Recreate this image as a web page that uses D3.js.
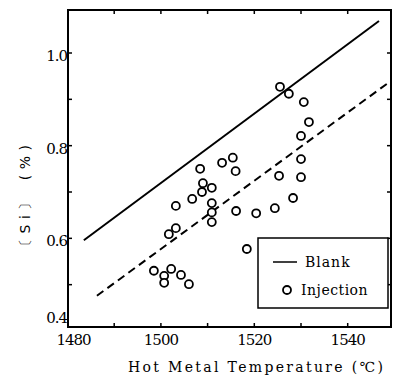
<!DOCTYPE html>
<html>
<head>
<meta charset="utf-8">
<script src="https://cdn.jsdelivr.net/npm/d3@7"></script>
<style>
  body { margin: 0; background: #fff; }
  svg { display: block; }
  .serif { font-family: 'DejaVu Serif', 'Liberation Serif', 'Noto Serif', serif; }
</style>
</head>
<body>
<div class="chart"></div>
<script>
var width = 395, height = 379;

// injection points: hot metal temperature (C), [Si] (%)
var injTemp = [1508.4, 1513.1, 1515.4, 1516.0, 1509.0, 1508.8, 1510.9, 1506.7, 1503.2, 1510.9,
               1510.9, 1510.9, 1516.1, 1520.4, 1524.4, 1528.3, 1530.0, 1525.3, 1530.0, 1530.0,
               1531.7, 1530.6, 1527.4, 1525.5, 1503.2, 1501.7, 1518.4, 1498.5, 1500.7, 1502.2,
               1504.3, 1500.7, 1506.0];
var injSi   = [0.750, 0.763, 0.774, 0.745, 0.719, 0.700, 0.709, 0.685, 0.670, 0.676,
               0.656, 0.635, 0.659, 0.654, 0.665, 0.687, 0.732, 0.735, 0.771, 0.821,
               0.851, 0.894, 0.912, 0.927, 0.622, 0.609, 0.577, 0.530, 0.519, 0.534,
               0.521, 0.504, 0.501];

// blank line (solid) and injection line (dashed), end points
var blankLine = [[1483.5, 0.596], [1546.7, 1.069]];
var injLine   = [[1486.3, 0.476], [1548.6, 0.935]];

var xTicks = [1490, 1500, 1510, 1520, 1530, 1540];
var xLabels = [1480, 1500, 1520, 1540];
var yTicks = [0.5, 0.6, 0.7, 0.8, 0.9, 1.0];
var yLabels = [0.4, 0.6, 0.8, 1.0];

var frameL = 68, frameR = 391, frameT = 10, frameB = 327;

var x = d3.scaleLinear().domain([1490, 1540]).range([114.2, 347.7]);
var y = d3.scaleLinear().domain([0.4, 1.0]).range([331, 53]);

var svg = d3.select('.chart').append('svg')
  .attr('width', width)
  .attr('height', height);

// frame
svg.append('rect')
  .attr('x', frameL).attr('y', frameT)
  .attr('width', frameR - frameL).attr('height', frameB - frameT)
  .attr('fill', 'none').attr('stroke', '#000').attr('stroke-width', 2);

// inward ticks on all four sides
svg.selectAll('.xtb').data(xTicks).enter().append('line')
  .attr('x1', function(d){ return x(d) }).attr('x2', function(d){ return x(d) })
  .attr('y1', frameB).attr('y2', frameB - 4)
  .attr('stroke', '#000').attr('stroke-width', 1.5);
svg.selectAll('.xtt').data(xTicks).enter().append('line')
  .attr('x1', function(d){ return x(d) }).attr('x2', function(d){ return x(d) })
  .attr('y1', frameT).attr('y2', frameT + 4)
  .attr('stroke', '#000').attr('stroke-width', 1.5);
svg.selectAll('.ytl').data(yTicks).enter().append('line')
  .attr('x1', frameL).attr('x2', frameL + 4)
  .attr('y1', function(d){ return y(d) }).attr('y2', function(d){ return y(d) })
  .attr('stroke', '#000').attr('stroke-width', 1.5);
svg.selectAll('.ytr').data(yTicks).enter().append('line')
  .attr('x1', frameR).attr('x2', frameR - 4)
  .attr('y1', function(d){ return y(d) }).attr('y2', function(d){ return y(d) })
  .attr('stroke', '#000').attr('stroke-width', 1.5);

// tick labels
svg.selectAll('.xl').data(xLabels).enter().append('text')
  .attr('class', 'serif')
  .attr('x', function(d){ return d === 1480 ? x(d) + 6 : x(d) })
  .attr('y', 345)
  .attr('text-anchor', 'middle')
  .attr('font-size', 15)
  .attr('letter-spacing', -1)
  .text(function(d){ return d });

svg.selectAll('.yl').data(yLabels).enter().append('text')
  .attr('class', 'serif')
  .attr('x', 67)
  .attr('y', function(d){ return d === 0.4 ? 323 : y(d) + 8 })
  .attr('text-anchor', 'end')
  .attr('font-size', 15)
  .attr('letter-spacing', -1)
  .text(function(d){ return d.toFixed(1) });

// axis titles
svg.append('text')
  .attr('class', 'serif')
  .attr('x', 128).attr('y', 372)
  .attr('textLength', 255).attr('lengthAdjust', 'spacing')
  .attr('font-size', 14)
  .text('Hot Metal Temperature (℃)');

svg.append('text')
  .attr('transform', 'translate(30,253) rotate(-90)')
  .attr('textLength', 108).attr('lengthAdjust', 'spacing')
  .attr('font-family', 'DejaVu Sans, sans-serif')
  .attr('font-size', 14)
  .text('〔Si〕 (%)');

// lines
var line = d3.line()
  .x(function(d){ return x(d[0]) })
  .y(function(d){ return y(d[1]) });

svg.append('path').datum(blankLine)
  .attr('d', line).attr('fill', 'none')
  .attr('stroke', '#000').attr('stroke-width', 2);

svg.append('path').datum(injLine)
  .attr('d', line).attr('fill', 'none')
  .attr('stroke', '#000').attr('stroke-width', 2)
  .attr('stroke-dasharray', '8,5');

// points
svg.selectAll('circle.pt').data(injTemp).enter().append('circle')
  .attr('class', 'pt')
  .attr('cx', function(d){ return x(d) })
  .attr('cy', function(d, i){ return y(injSi[i]) })
  .attr('r', 4)
  .attr('fill', '#fff')
  .attr('stroke', '#000').attr('stroke-width', 1.8);

// legend
var lg = svg.append('g');
lg.append('rect')
  .attr('x', 258).attr('y', 238).attr('width', 130).attr('height', 70)
  .attr('fill', '#fff').attr('stroke', '#000').attr('stroke-width', 1.5);
lg.append('line')
  .attr('x1', 273).attr('x2', 297).attr('y1', 262).attr('y2', 262)
  .attr('stroke', '#000').attr('stroke-width', 1.5);
lg.append('text')
  .attr('class', 'serif')
  .attr('x', 305).attr('y', 267)
  .attr('font-size', 14).attr('letter-spacing', 1)
  .text('Blank');
lg.append('circle')
  .attr('cx', 287).attr('cy', 290).attr('r', 4)
  .attr('fill', '#fff').attr('stroke', '#000').attr('stroke-width', 1.8);
lg.append('text')
  .attr('class', 'serif')
  .attr('x', 301).attr('y', 295)
  .attr('font-size', 14).attr('letter-spacing', 0.5)
  .text('Injection');
</script>
</body>
</html>
